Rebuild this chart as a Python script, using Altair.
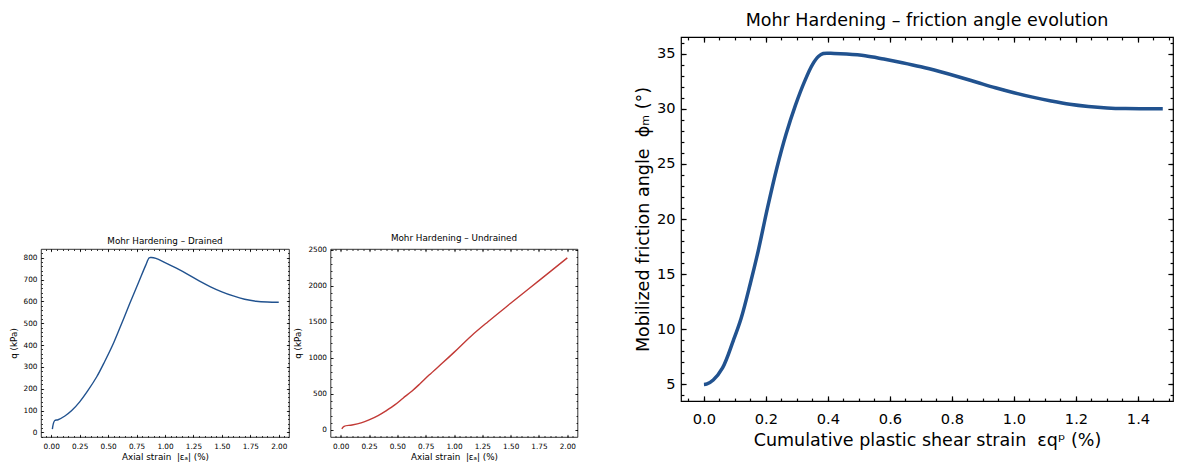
import altair as alt
import pandas as pd
import numpy as np

# ---------------- data ----------------
drained_strain = [0.01, 0.03, 0.06, 0.12, 0.18, 0.25, 0.32, 0.40, 0.47, 0.55, 0.62, 0.69,
                  0.77, 0.83, 0.862, 0.88, 0.92, 1.00, 1.10, 1.20, 1.30, 1.40, 1.50, 1.60,
                  1.70, 1.80, 1.90, 2.00]
drained_q = [15, 54, 58, 75, 100, 140, 190, 255, 325, 412, 500, 590,
             690, 765, 800, 801, 797, 778, 752, 724, 694, 667, 644, 625,
             610, 601, 597, 596]

undrained_strain = [0.01, 0.03, 0.10, 0.18, 0.25, 0.33, 0.40, 0.48, 0.55, 0.63, 0.70, 0.78,
                    0.90, 1.00, 1.15, 1.30, 1.50, 1.75, 2.00]
undrained_q = [14, 50, 68, 97, 138, 198, 265, 350, 440, 540, 640, 760,
               930, 1075, 1300, 1500, 1755, 2070, 2385]

plastic_strain = [0.0, 0.01, 0.03, 0.06, 0.095, 0.12, 0.15, 0.175, 0.205, 0.235, 0.265,
                  0.295, 0.325, 0.35, 0.37, 0.385, 0.42, 0.46, 0.52, 0.58, 0.64, 0.70,
                  0.76, 0.82, 0.88, 0.94, 1.00, 1.06, 1.12, 1.18, 1.24, 1.30, 1.36,
                  1.42, 1.48]
phi_m = [5.0, 5.05, 5.4, 6.5, 9.0, 11.0, 14.2, 17.1, 21.0, 24.6, 27.7,
         30.3, 32.5, 34.0, 34.75, 35.0, 35.0, 34.95, 34.8, 34.5, 34.17, 33.8,
         33.37, 32.9, 32.4, 31.9, 31.45, 31.05, 30.7, 30.4, 30.2, 30.07, 30.01,
         30.0, 30.0]

drained_xticks = [0.0, 0.25, 0.5, 0.75, 1.0, 1.25, 1.5, 1.75, 2.0]
drained_yticks = [0, 100, 200, 300, 400, 500, 600, 700, 800]
undrained_yticks = [0, 500, 1000, 1500, 2000, 2500]
phi_xticks = [0.0, 0.2, 0.4, 0.6, 0.8, 1.0, 1.2, 1.4]
phi_yticks = [5, 10, 15, 20, 25, 30, 35]

FONT = "DejaVu Sans"
BLUE = "#21528f"
RED = "#c23a36"
SP = " \u00a0"


def minor(lo, hi, step):
    k0 = int(np.ceil(lo / step))
    k1 = int(np.floor(hi / step))
    return [round(k * step, 6) for k in range(k0, k1 + 1) if lo < k * step < hi]


def panel(df, xdom, ydom, w, h, color, sw, xmaj, xmin_, ymaj, ymin_, xfmt, yfmt,
          tick_fs, lab_fs, tmaj, tmin, lpadx, lpady, tpadx, tpady, title, title_fs, title_off,
          xtitle, ytitle, spine):
    def lay(xaxis, yaxis, visible):
        return alt.Chart(df).mark_line(
            color=color, strokeWidth=sw, opacity=1 if visible else 0,
            interpolate="catmull-rom", clip=True
        ).encode(
            x=alt.X("x:Q", scale=alt.Scale(domain=xdom, nice=False, zero=False), axis=xaxis),
            y=alt.Y("y:Q", scale=alt.Scale(domain=ydom, nice=False, zero=False), axis=yaxis),
        )

    def tick_axis(orient, vals, size):
        return alt.Axis(orient=orient, values=vals, labels=False, ticks=True, tickSize=size,
                        offset=-size, domain=False, grid=False, title=None,
                        tickColor="black", tickWidth=max(0.8, spine))

    main_x = alt.Axis(orient="bottom", values=xmaj, format=xfmt, ticks=False, domain=False,
                      grid=False, labelPadding=lpadx, labelFontSize=tick_fs, labelFlush=False,
                      labelOverlap=False, title=xtitle, titleFontSize=lab_fs, titlePadding=tpadx)
    main_y = alt.Axis(orient="left", values=ymaj, format=yfmt, ticks=False, domain=False,
                      grid=False, labelPadding=lpady, labelFontSize=tick_fs, labelFlush=False,
                      labelOverlap=False, title=ytitle, titleFontSize=lab_fs, titlePadding=tpady)
    layers = [
        lay(main_x, main_y, True),
        lay(tick_axis("bottom", xmaj, tmaj), tick_axis("left", ymaj, tmaj), False),
        lay(tick_axis("bottom", xmin_, tmin), tick_axis("left", ymin_, tmin), False),
        lay(tick_axis("top", xmaj, tmaj), tick_axis("right", ymaj, tmaj), False),
        lay(tick_axis("top", xmin_, tmin), tick_axis("right", ymin_, tmin), False),
    ]
    return alt.layer(*layers).resolve_axis(x="independent", y="independent").properties(
        width=w, height=h,
        title=alt.TitleParams(title, fontSize=title_fs, offset=title_off, font=FONT,
                              fontWeight="normal", color="black", anchor="middle"),
        view=alt.ViewBackground(stroke="black", strokeWidth=spine),
    )


df_d = pd.DataFrame({"x": drained_strain, "y": drained_q})
df_u = pd.DataFrame({"x": undrained_strain, "y": undrained_q})
df_p = pd.DataFrame({"x": plastic_strain, "y": phi_m})

dx = [-0.09, 2.09]
drained = panel(df_d, dx, [-21, 840], 248, 188, BLUE, 1.4,
                drained_xticks, minor(dx[0], dx[1], 0.05),
                drained_yticks, minor(-21, 840, 20), ".2f", "d",
                7.3, 8.8, 2.6, 1.5, 5, 4, 3, 5, "Mohr Hardening – Drained", 8.8, 2.5,
                "Axial strain" + SP + "|εₐ| (%)", "q (kPa)", 0.8)

undrained = panel(df_u, dx, [-98, 2508], 247, 188, RED, 1.4,
                  drained_xticks, minor(dx[0], dx[1], 0.05),
                  undrained_yticks, minor(-98, 2508, 100), ".2f", "d",
                  7.3, 8.8, 2.6, 1.5, 5, 4, 3, 5, "Mohr Hardening – Undrained", 8.8, 2.5,
                  "Axial strain" + SP + "|εₐ| (%)", "q (kPa)", 0.8)

px = [-0.074, 1.513]
big = panel(df_p, px, [3.5, 36.5], 492, 364, BLUE, 3.5,
            phi_xticks, minor(px[0], px[1], 0.05),
            phi_yticks, minor(3.5, 36.5, 1), ".1f", "d",
            14.6, 17.5, 5.1, 2.9, 10, 6, 6, 4,
            "Mohr Hardening – friction angle evolution", 17.5, 7,
            "Cumulative plastic shear strain" + SP + "εqᵖ (%)",
            "Mobilized friction angle" + SP + "ϕₘ (°)", 1.2)

spacer = alt.Chart(pd.DataFrame({"v": [0]})).mark_point(opacity=0).encode(
    x=alt.value(0), y=alt.value(0)
).properties(width=10, height=196, view=alt.ViewBackground(strokeWidth=0, strokeOpacity=0))

left = alt.vconcat(spacer, alt.hconcat(drained, undrained, spacing=3.5), spacing=0)

chart = alt.hconcat(left, big, spacing=54).properties(
    padding={"left": 0, "top": 3, "right": 0, "bottom": 0}
).configure(
    font=FONT
).configure_axis(
    labelColor="black", titleColor="black", titleFontWeight="normal",
    labelFont=FONT, titleFont=FONT
).configure_view(strokeWidth=0)

chart.save("out.html", embed_options={"renderer": "svg", "actions": False})
